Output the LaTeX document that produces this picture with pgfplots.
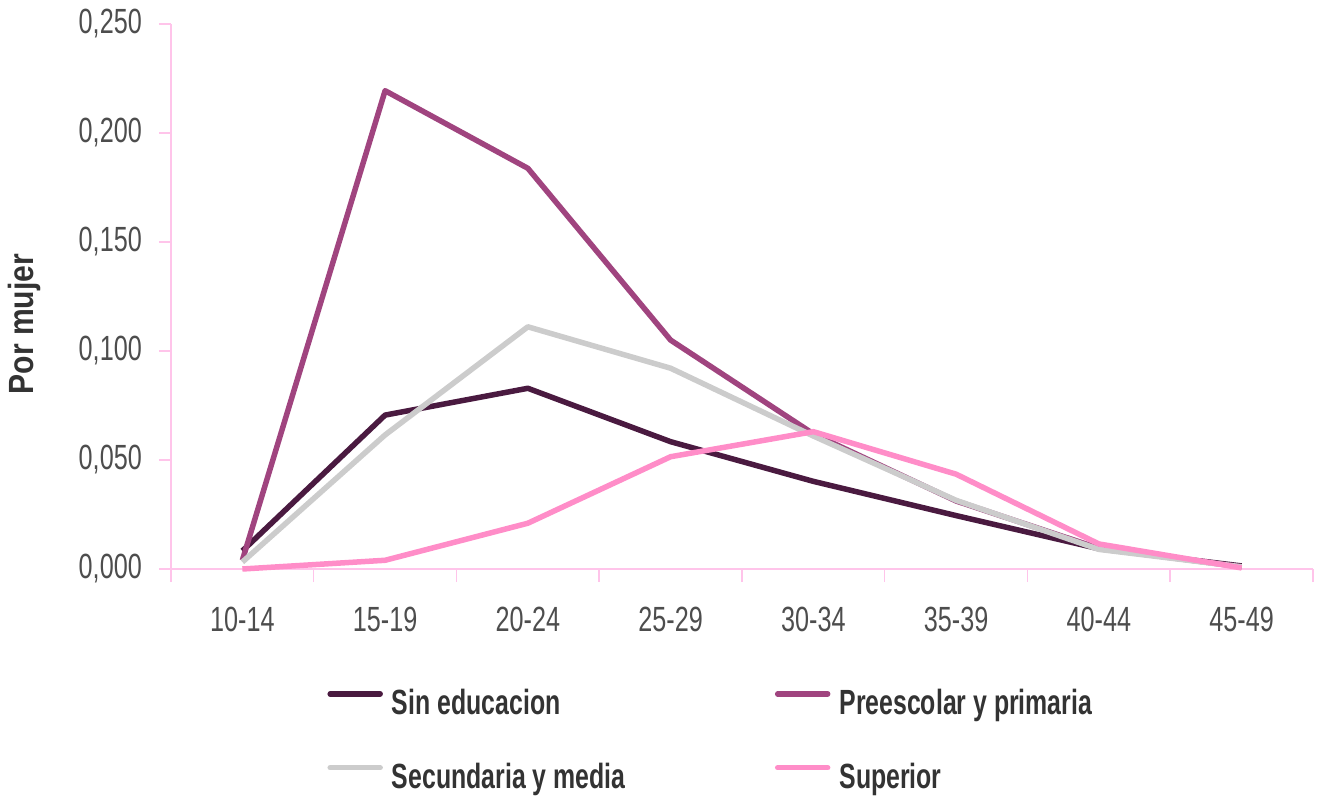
\documentclass[border=0pt]{standalone}
\usepackage{pgfplots}
\pgfplotsset{compat=1.18}
\usepackage{fontspec}
\setmainfont{Liberation Sans}
\newfontfamily\tickfont{Liberation Sans}[FakeStretch=0.72]
\newfontfamily\legfont{Liberation Sans}[FakeStretch=0.71]
\newfontfamily\labfont{Liberation Sans}[FakeStretch=0.86]
\definecolor{cSin}{HTML}{4A1A40}
\definecolor{cPre}{HTML}{A0447F}
\definecolor{cSec}{HTML}{CCCCCC}
\definecolor{cSup}{HTML}{FF8DC8}
\definecolor{cAxis}{HTML}{FFC4EA}
\definecolor{cTick}{HTML}{4D4D4D}
\definecolor{cLeg}{HTML}{333333}
\newcommand{\legtext}[1]{\hspace*{9pt}\makebox[383pt][l]{#1}}
\begin{document}
\begin{tikzpicture}
\begin{axis}[
  scale only axis, width=1142pt, height=545pt,
  xmin=-0.5, xmax=7.5, ymin=0, ymax=0.25,
  clip=false,
  axis x line*=bottom, axis y line*=left,
  axis line style={cAxis, line width=1.5pt, -},
  xtick={0,1,2,3,4,5,6,7},
  xticklabels={10-14,15-19,20-24,25-29,30-34,35-39,40-44,45-49},
  minor xtick={-0.5,0.5,1.5,2.5,3.5,4.5,5.5,6.5,7.5},
  major x tick style={draw=none},
  ytick={0,0.05,0.1,0.15,0.2,0.25},
  scaled y ticks=false,
  tick align=outside,
  major tick length=12pt, minor tick length=13pt,
  tick style={cAxis, line width=1.5pt},
  xticklabel style={font=\tickfont\fontsize{35}{42}\selectfont, text=cTick, anchor=north, inner sep=0pt, yshift=-26pt},
  yticklabel style={font=\tickfont\fontsize{35}{42}\selectfont, text=cTick, anchor=east, inner sep=0pt, xshift=-17pt,
    /pgf/number format/.cd, fixed, fixed zerofill, precision=3, use comma, assume math mode=true},
  ylabel={Por mujer},
  ylabel style={at={(rel axis cs:-0.1287,0.4495)}, anchor=center, rotate=0, font=\labfont\bfseries\fontsize{35}{42}\selectfont, text=cLeg},
  legend columns=2,
  legend cell align=left,
  legend style={draw=none, fill=none, at={(rel axis cs:0.137,-0.221)}, anchor=north west,
    inner sep=0pt, outer sep=0pt, row sep=47pt, nodes={inner sep=0pt},
    font=\legfont\bfseries\fontsize{35}{42}\selectfont, text=cLeg},
  legend image code/.code={\draw[#1, line cap=round] (0pt,9pt) -- (50pt,9pt);},
  every axis plot/.append style={line width=5.5pt, line join=round},
]
\addplot[cSin] coordinates {(0,0.0083) (1,0.0706) (2,0.0829) (3,0.0584) (4,0.0402) (5,0.0245) (6,0.0093) (7,0.0014)};
\addlegendentry{\legtext{Sin educacion}}
\addplot[cPre] coordinates {(0,0.0040) (1,0.2194) (2,0.1838) (3,0.1050) (4,0.0620) (5,0.0312) (6,0.0095) (7,0.0010)};
\addlegendentry{\legtext{Preescolar y primaria}}
\addplot[cSec] coordinates {(0,0.0032) (1,0.0615) (2,0.1111) (3,0.0921) (4,0.0610) (5,0.0315) (6,0.0090) (7,0.0010)};
\addlegendentry{\legtext{Secundaria y media}}
\addplot[cSup] coordinates {(0,0.0000) (1,0.0040) (2,0.0210) (3,0.0515) (4,0.0630) (5,0.0435) (6,0.0115) (7,0.0005)};
\addlegendentry{\legtext{Superior}}
\end{axis}
\pgfresetboundingbox
\path (-171pt,-228pt) rectangle (1147pt,569pt);
\end{tikzpicture}
\end{document}
